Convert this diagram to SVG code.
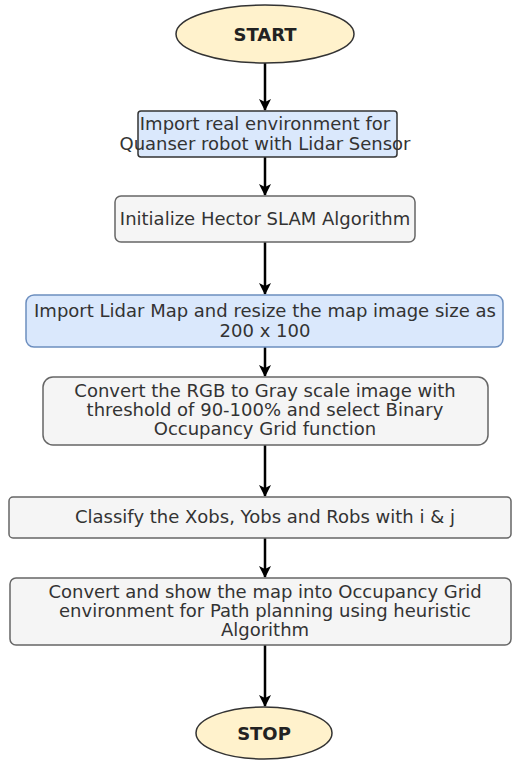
<svg xmlns="http://www.w3.org/2000/svg" width="512" height="761" viewBox="0 0 512 761">
<style>
.t{font-family:"DejaVu Sans",Verdana,sans-serif;font-size:18px;fill:#333;text-anchor:middle}
.b{font-family:"DejaVu Sans",Verdana,sans-serif;font-size:18px;font-weight:bold;fill:#222;text-anchor:middle}
.term{fill:#fff2cc;stroke:#333;stroke-width:1.5}
.blue{fill:#dae8fc;stroke:#6c8ebf;stroke-width:1.5}
.gray{fill:#f5f5f5;stroke:#666;stroke-width:1.5}
.c{stroke:#000;stroke-width:2.5;fill:none;marker-end:url(#ah)}
</style>
<defs>
<marker id="ah" viewBox="0 0 12 12" refX="11" refY="6" markerWidth="12" markerHeight="12" markerUnits="userSpaceOnUse" orient="auto">
<path d="M0,0 L12,6 L0,12 L3,6 Z" fill="#000"/>
</marker>
</defs>
<rect width="512" height="761" fill="#fff"/>
<g id="connectors">
<line class="c" x1="265" y1="63" x2="265" y2="110"/>
<line class="c" x1="265" y1="157" x2="265" y2="195"/>
<line class="c" x1="265" y1="242" x2="265" y2="294"/>
<line class="c" x1="265" y1="347" x2="265" y2="376"/>
<line class="c" x1="265" y1="445" x2="265" y2="496"/>
<line class="c" x1="265" y1="538" x2="265" y2="577"/>
<line class="c" x1="265" y1="645" x2="265" y2="706"/>
</g>
<g id="start">
<ellipse class="term" cx="265" cy="34" rx="89" ry="29"/>
<text class="b" x="265" y="41">START</text>
</g>
<g id="import-env">
<rect x="138" y="111" width="259" height="46" rx="3" fill="#dae8fc" stroke="#333" stroke-width="1.5"/>
<text class="t" x="265" y="130">Import real environment for</text>
<text class="t" x="265" y="150">Quanser robot with Lidar Sensor</text>
</g>
<g id="init-slam">
<rect class="gray" x="115" y="196" width="300" height="46" rx="6"/>
<text class="t" x="265" y="225">Initialize Hector SLAM Algorithm</text>
</g>
<g id="import-map">
<rect class="blue" x="26" y="295" width="477" height="52" rx="8"/>
<text class="t" x="265" y="317">Import Lidar Map and resize the map image size as</text>
<text class="t" x="265" y="337">200 x 100</text>
</g>
<g id="convert-gray">
<rect class="gray" x="43" y="377" width="445" height="68" rx="10"/>
<text class="t" x="265" y="397">Convert the RGB to Gray scale image with</text>
<text class="t" x="265" y="416">threshold of 90-100% and select Binary</text>
<text class="t" x="265" y="435">Occupancy Grid function</text>
</g>
<g id="classify">
<rect class="gray" x="9" y="497" width="502" height="41" rx="4"/>
<text class="t" x="265" y="523">Classify the Xobs, Yobs and Robs with i &amp; j</text>
</g>
<g id="convert-show">
<rect class="gray" x="10" y="578" width="501" height="67" rx="6"/>
<text class="t" x="265" y="598">Convert and show the map into Occupancy Grid</text>
<text class="t" x="265" y="617">environment for Path planning using heuristic</text>
<text class="t" x="265" y="636">Algorithm</text>
</g>
<g id="stop">
<ellipse class="term" cx="264" cy="733" rx="68" ry="26"/>
<text class="b" x="264" y="740">STOP</text>
</g>
</svg>
